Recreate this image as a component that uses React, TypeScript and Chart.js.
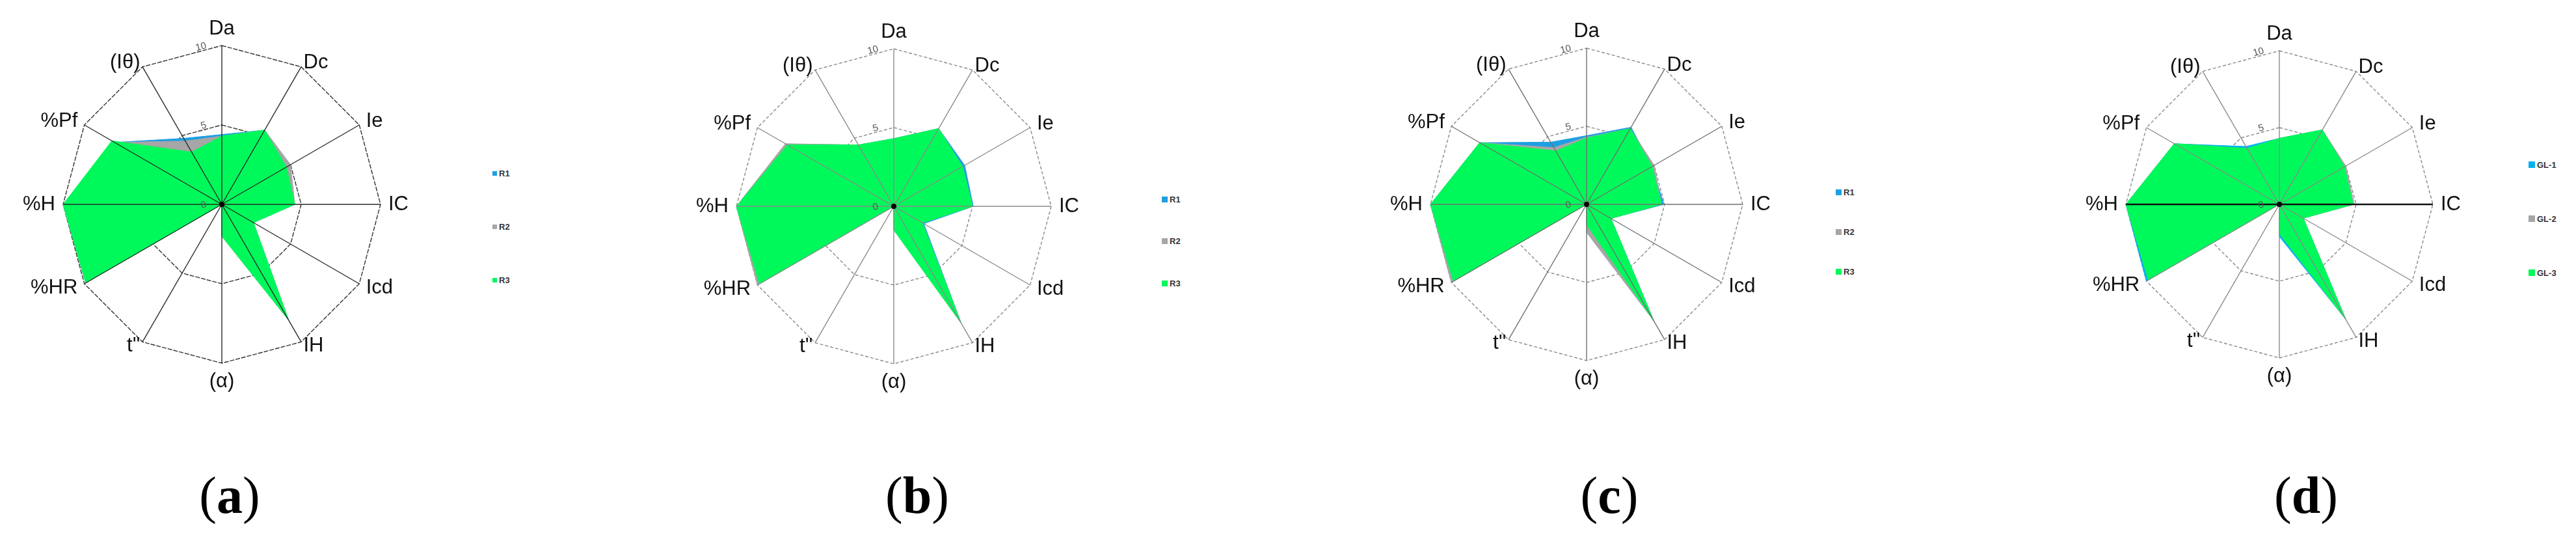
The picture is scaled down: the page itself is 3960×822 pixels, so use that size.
import React, { useEffect, useRef } from "react";
import { Chart, registerables } from "chart.js";

Chart.register(...registerables);

// ---------- data ----------
const axisLabels = ["Da", "Dc", "Ie", "IC", "Icd", "IH", "(α)", "t''", "%HR", "%H", "%Pf", "(Iθ)"];
const tickValues = [0, 5, 10];
const namesR = ["R1", "R2", "R3"];
const namesGL = ["GL-1", "GL-2", "GL-3"];

// (a)
const aR1 = [4.4, 5.4, 4.7, 4.6, 2.3, 8.4, 2.0, 0, 9.9, 10, 7.8, 4.8];
const aR2 = [4.3, 5.4, 5.0, 4.6, 2.3, 8.4, 2.0, 0, 9.9, 10, 7.8, 4.6];
const aR3 = [4.3, 5.4, 4.7, 4.6, 2.3, 8.4, 2.0, 0, 9.9, 10, 8.0, 3.8];
// (b)
const bR1 = [4.3, 5.7, 5.2, 5.05, 2.2, 8.55, 1.5, 0, 9.85, 10, 7.9, 4.5];
const bR2 = [4.3, 5.7, 5.05, 5.0, 2.1, 8.55, 1.5, 0, 10, 10, 7.95, 4.5];
const bR3 = [4.3, 5.7, 5.05, 5.0, 2.1, 8.55, 1.5, 0, 9.85, 10, 7.8, 4.5];
// (c)
const cR1 = [4.4, 5.7, 4.85, 4.95, 1.8, 8.6, 1.4, 0, 9.85, 10, 7.9, 4.6];
const cR2 = [4.3, 5.6, 5.0, 4.8, 1.8, 8.6, 1.8, 0, 10, 10, 7.9, 4.2];
const cR3 = [4.25, 5.6, 4.85, 4.8, 1.8, 8.6, 1.3, 0, 9.85, 10, 7.9, 3.95];
// (d)
const dGL1 = [4.3, 5.6, 4.9, 4.8, 1.8, 8.65, 2.1, 0, 10, 10, 7.9, 4.35];
const dGL2 = [4.3, 5.6, 5.0, 4.88, 1.8, 8.65, 1.9, 0, 9.85, 10, 7.9, 4.2];
const dGL3 = [4.3, 5.6, 4.9, 4.8, 1.8, 8.65, 1.9, 0, 9.85, 10, 7.9, 4.2];

// ---------- styles / layout ----------
const BLUE = "#1E9FE3";
const CYAN = "#00B2F0";
const GRAY = "#A6A6A6";
const GREEN = "#00F95A";

type PanelCfg = {
  key: string;
  series: number[][];
  names: string[];
  colors: string[];
  cx: number;
  cy: number;
  r: number;
  spoke: string;
  spokeWidth: number;
  strongSpokes: number[];
  ring: string;
  dash: number[];
  legendX: number;
  legendY: number[];
  marker: number;
  capX: number;
};

const panels: PanelCfg[] = [
  { key: "a", series: [aR1, aR2, aR3], names: namesR, colors: [BLUE, GRAY, GREEN], cx: 341, cy: 314, r: 244, spoke: "#2a2a2a", spokeWidth: 1.4, strongSpokes: [], ring: "#333333", dash: [7, 2], legendX: 757, legendY: [266, 348, 430], marker: 7, capX: 353 },
  { key: "b", series: [bR1, bR2, bR3], names: namesR, colors: [BLUE, GRAY, GREEN], cx: 1374, cy: 317, r: 242, spoke: "#8a8a8a", spokeWidth: 1.4, strongSpokes: [], ring: "#8a8a8a", dash: [5, 3], legendX: 1786, legendY: [306, 370, 435], marker: 9, capX: 1410 },
  { key: "c", series: [cR1, cR2, cR3], names: namesR, colors: [BLUE, GRAY, GREEN], cx: 2439, cy: 314, r: 240, spoke: "#707070", spokeWidth: 1.4, strongSpokes: [], ring: "#8a8a8a", dash: [5, 3], legendX: 2822, legendY: [295, 356, 417], marker: 9, capX: 2474 },
  { key: "d", series: [dGL1, dGL2, dGL3], names: namesGL, colors: [CYAN, GRAY, GREEN], cx: 3504, cy: 314, r: 236, spoke: "#8a8a8a", spokeWidth: 1.4, strongSpokes: [3, 9], ring: "#8a8a8a", dash: [5, 3], legendX: 3887, legendY: [253, 336, 419], marker: 10, capX: 3545 },
];

const CW = 720;
const CH = 700;

function makeOverlay(p: PanelCfg) {
  return {
    id: "radarOverlay",
    afterDatasetsDraw(chart: any) {
      const s: any = chart.scales.r;
      const ctx: CanvasRenderingContext2D = chart.ctx;
      const labels: string[] = chart.data.labels;
      const n = labels.length;
      const cx = s.xCenter;
      const cy = s.yCenter;
      ctx.save();
      ctx.setLineDash([]);
      // spokes over the fills
      for (let i = 0; i < n; i++) {
        const q = s.getPointPositionForValue(i, s.max);
        const strong = p.strongSpokes.includes(i);
        ctx.beginPath();
        ctx.moveTo(cx, cy);
        ctx.lineTo(q.x, q.y);
        ctx.strokeStyle = strong ? "#111" : p.spoke;
        ctx.lineWidth = strong ? 2.6 : p.spokeWidth;
        ctx.stroke();
      }
      // centre dot
      ctx.beginPath();
      ctx.arc(cx, cy, 4, 0, Math.PI * 2);
      ctx.fillStyle = "#000";
      ctx.fill();
      // point labels
      ctx.font = '31px "Liberation Sans", Arial, sans-serif';
      ctx.fillStyle = "#111";
      for (let i = 0; i < n; i++) {
        const deg = Math.round((s.getIndexAngle(i) * 180) / Math.PI) % 360;
        let pad = 12;
        let align: CanvasTextAlign = deg < 180 ? "left" : "right";
        if (deg === 0) {
          pad = 26;
          align = "center";
        } else if (deg === 180) {
          pad = 28;
          align = "center";
        } else if (deg % 180 === 30 || deg % 180 === 150) {
          pad = 7;
        }
        const q = s.getPointPosition(i, s.drawingArea + pad);
        ctx.textAlign = align;
        ctx.textBaseline = "middle";
        ctx.fillText(labels[i], q.x, q.y);
      }
      // tick labels
      ctx.font = '15px "Liberation Sans", Arial, sans-serif';
      ctx.fillStyle = "#555";
      tickValues.forEach((v) => {
        const d = s.getDistanceFromCenterForValue(v);
        ctx.save();
        ctx.translate(cx - 24, cy - d);
        ctx.rotate(-Math.PI / 12);
        ctx.textAlign = "right";
        ctx.textBaseline = "middle";
        ctx.fillText(String(v), 0, 0);
        ctx.restore();
      });
      ctx.restore();
    },
  };
}

function Panel({ p }: { p: PanelCfg }) {
  const ref = useRef<HTMLCanvasElement>(null);
  const left = p.cx - CW / 2;

  useEffect(() => {
    if (!ref.current) return;
    const chart = new Chart(ref.current, {
      type: "radar",
      data: {
        labels: axisLabels,
        datasets: p.series.map((vals, i) => ({
          label: p.names[i],
          data: vals,
          backgroundColor: p.colors[i],
          borderColor: p.colors[i],
          borderWidth: 1,
          pointRadius: 0,
          pointHoverRadius: 0,
          fill: true,
          tension: 0,
          order: p.series.length - i,
        })),
      },
      options: {
        animation: false,
        responsive: false,
        events: [],
        layout: {
          padding: {
            left: CW / 2 - p.r,
            right: CW / 2 - p.r,
            top: p.cy - p.r,
            bottom: CH - p.cy - p.r,
          },
        },
        plugins: { legend: { display: false }, tooltip: { enabled: false } },
        scales: {
          r: {
            min: 0,
            max: 10,
            ticks: { stepSize: 5, display: false },
            pointLabels: { display: false },
            angleLines: { display: false },
            grid: { color: p.ring, lineWidth: 1.4 },
            border: { dash: p.dash },
          } as any,
        },
      },
      plugins: [makeOverlay(p)],
    });
    return () => chart.destroy();
  }, [p]);

  return (
    <>
      <canvas
        ref={ref}
        width={CW}
        height={CH}
        style={{ position: "absolute", left, top: 0, width: CW, height: CH }}
      />
      {p.names.map((name, j) => (
        <div
          key={name}
          style={{
            position: "absolute",
            left: p.legendX,
            top: p.legendY[j] - 9,
            height: 18,
            display: "flex",
            alignItems: "center",
            font: 'bold 13px "Liberation Sans", Arial, sans-serif',
            color: "#333",
            whiteSpace: "nowrap",
          }}
        >
          <span
            style={{
              display: "inline-block",
              width: p.marker,
              height: p.marker,
              background: p.colors[j],
              marginRight: 3,
            }}
          />
          {name}
        </div>
      ))}
      <div
        style={{
          position: "absolute",
          left: p.capX - 100,
          width: 200,
          top: 721,
          textAlign: "center",
          font: '80px "Liberation Serif", "Times New Roman", serif',
          lineHeight: "80px",
          color: "#000",
        }}
      >
        (<b>{p.key}</b>)
      </div>
    </>
  );
}

export default function App() {
  return (
    <div
      style={{
        position: "relative",
        width: 3960,
        height: 822,
        background: "#fff",
        overflow: "hidden",
      }}
    >
      <style>{`html,body{margin:0;padding:0;background:#fff;}`}</style>
      {panels.map((p) => (
        <Panel key={p.key} p={p} />
      ))}
    </div>
  );
}
